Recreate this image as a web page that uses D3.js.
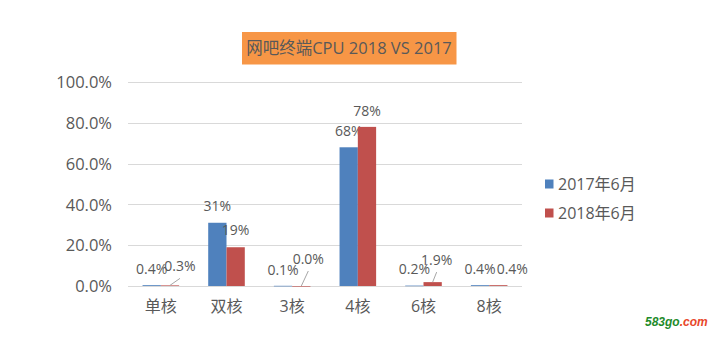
<!DOCTYPE html>
<html>
<head>
<meta charset="utf-8">
<script src="https://cdn.jsdelivr.net/npm/d3@7"></script>
<style>
  html, body { margin: 0; padding: 0; background: #fff; }
  svg { display: block; }
  text { font-family: "Open Sans", "Noto Sans CJK SC", sans-serif; fill: #595959; }
</style>
</head>
<body>
<svg id="chart" width="712" height="338"></svg>
<script>
// Share of internet-cafe CPUs by core count
const categories = ["单核", "双核", "3核", "4核", "6核", "8核"];
const seriesNames = ["2017年6月", "2018年6月"];
const values2017 = [0.004, 0.31, 0.001, 0.68, 0.002, 0.004];
const values2018 = [0.003, 0.19, 0.000, 0.78, 0.019, 0.004];
const labels2017 = ["0.4%", "31%", "0.1%", "68%", "0.2%", "0.4%"];
const labels2018 = ["0.3%", "19%", "0.0%", "78%", "1.9%", "0.4%"];
const yTicks = [0, 0.2, 0.4, 0.6, 0.8, 1.0];
const titleText = "网吧终端CPU 2018 VS 2017";

// label nudges (dx, dy from bar top centre) and whether a leader line is drawn
const nudges2017 = [[0, -16], [0, -17], [0, -16], [0, -16], [0, -16], [0, -16]];
const nudges2018 = [[10, -19], [0, -17], [7, -27], [0, -16], [4, -22], [14, -16]];
const leaders2018 = [true, false, true, false, true, false];

const colors = ["#4F81BD", "#C0504D"];
const svg = d3.select("#chart");

const plot = { left: 128, right: 522, top: 82, bottom: 286 };

const x0 = d3.scaleBand().domain(categories).range([plot.left, plot.right]).paddingInner(0).paddingOuter(0);
const x1 = d3.scaleBand().domain(seriesNames).range([0, x0.bandwidth()]).paddingInner(0).paddingOuter(0.795);
const y = d3.scaleLinear().domain([0, 1]).range([plot.bottom, plot.top]);

// Title box
const title = svg.append("g");
title.append("rect").attr("x", 242).attr("y", 32).attr("width", 214.5).attr("height", 32.5).attr("fill", "#F79646");
title.append("text").attr("x", 349).attr("y", 48.5).attr("dy", "0.35em")
  .attr("text-anchor", "middle").style("font-size", "16.5px").text(titleText);

// Gridlines
svg.append("g").selectAll("line").data(yTicks).join("line")
  .attr("x1", plot.left).attr("x2", plot.right)
  .attr("y1", d => Math.round(y(d)) + 0.5).attr("y2", d => Math.round(y(d)) + 0.5)
  .attr("stroke", "#D9D9D9").attr("stroke-width", 1);

// Y axis labels
const yAxis = d3.axisLeft(y).tickValues(yTicks).tickFormat(d3.format(".1%")).tickSize(0).tickPadding(0);
const yg = svg.append("g").attr("transform", `translate(112,0)`).call(yAxis);
yg.select(".domain").remove();
yg.selectAll("text").style("font-size", "16.5px").attr("fill", "#595959").attr("dy", "0.35em");

// X axis labels
const xAxis = d3.axisBottom(x0).tickSize(0).tickPadding(0);
const xg = svg.append("g").attr("transform", `translate(0,${plot.bottom})`).call(xAxis);
xg.select(".domain").remove();
xg.selectAll("text").style("font-size", "16px").attr("fill", "#595959").attr("y", 26).attr("dy", "0em");

// Bars
const series = [
  { name: seriesNames[0], values: values2017, labels: labels2017, nudges: nudges2017, leaders: [false, false, false, false, false, false] },
  { name: seriesNames[1], values: values2018, labels: labels2018, nudges: nudges2018, leaders: leaders2018 }
];

series.forEach((s, si) => {
  const g = svg.append("g");
  const recs = categories.map((c, i) => ({ c, i, v: s.values[i], label: s.labels[i], nudge: s.nudges[i], leader: s.leaders[i] }));
  g.selectAll("rect").data(recs).join("rect")
    .attr("x", d => x0(d.c) + x1(s.name))
    .attr("width", x1.bandwidth())
    .attr("y", d => y(d.v))
    .attr("height", d => Math.max(y(0) - y(d.v), 0.6))
    .attr("fill", colors[si]);

  const cx = d => x0(d.c) + x1(s.name) + x1.bandwidth() / 2;
  g.selectAll("line.leader").data(recs.filter(d => d.leader)).join("line")
    .attr("class", "leader")
    .attr("x1", d => cx(d)).attr("y1", d => y(d.v))
    .attr("x2", d => cx(d) + d.nudge[0]).attr("y2", d => y(d.v) + d.nudge[1] + 12)
    .attr("stroke", "#A6A6A6").attr("stroke-width", 1);

  g.selectAll("text").data(recs).join("text")
    .attr("x", d => cx(d) + d.nudge[0])
    .attr("y", d => y(d.v) + d.nudge[1])
    .attr("dy", "0.35em")
    .attr("text-anchor", "middle")
    .style("font-size", "14px")
    .text(d => d.label);
});

// Legend
const legend = svg.append("g");
seriesNames.forEach((n, i) => {
  const ly = 184 + i * 29;
  legend.append("rect").attr("x", 545).attr("y", ly - 4.5).attr("width", 8.5).attr("height", 9).attr("fill", colors[i]);
  legend.append("text").attr("x", 558).attr("y", ly).attr("dy", "0.35em").style("font-size", "16px").text(n);
});

// Site mark
const mark = svg.append("text").attr("x", 645).attr("y", 326)
  .style("font-family", "'Liberation Sans', Arial, sans-serif")
  .style("font-size", "12px").style("font-weight", "bold").style("font-style", "italic");
mark.append("tspan").style("fill", "#1E8B2A").text("583go");
mark.append("tspan").style("fill", "#E8472B").text(".com");
</script>
</body>
</html>
